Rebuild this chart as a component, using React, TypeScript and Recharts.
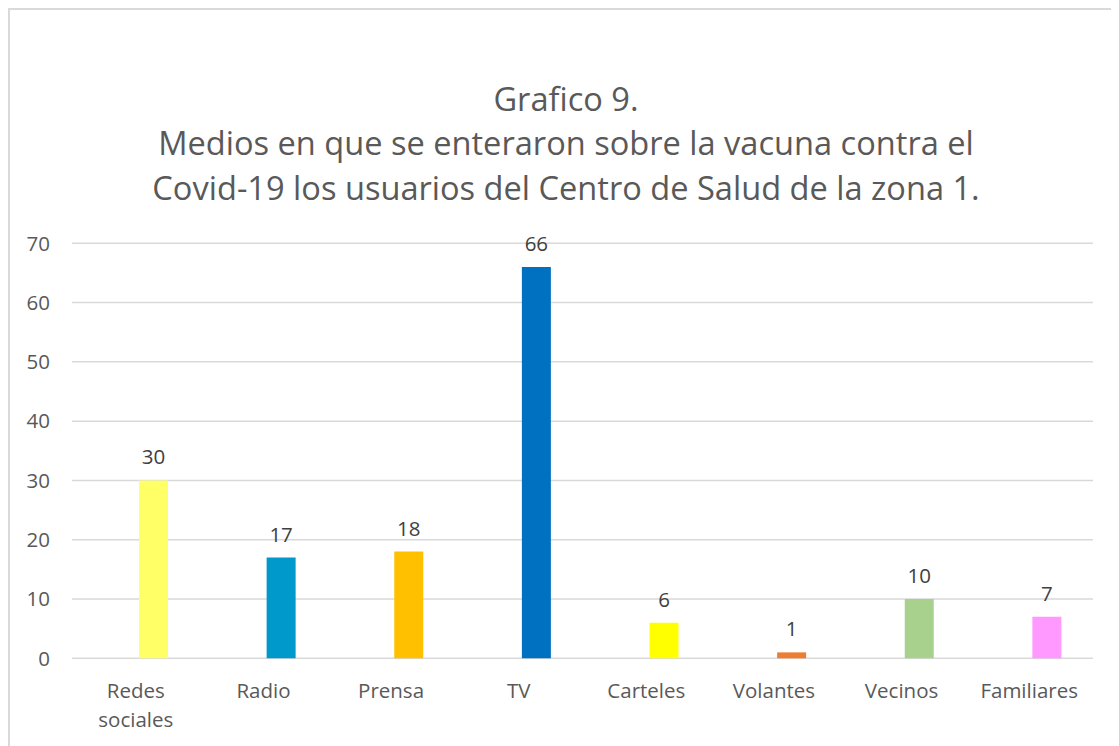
import React from "react";
import { BarChart, Bar, XAxis, YAxis, CartesianGrid, Cell, LabelList } from "recharts";

const categories = ["Redes sociales", "Radio", "Prensa", "TV", "Carteles", "Volantes", "Vecinos", "Familiares"];
const values = [30, 17, 18, 66, 6, 1, 10, 7];
const barColors = ["#FFFF66", "#0099CC", "#FFC000", "#0070C0", "#FFFF00", "#ED7D31", "#A9D18E", "#FF99FF"];
const yTicks = [0, 10, 20, 30, 40, 50, 60, 70];
const titleLines = [
  "Grafico 9.",
  "Medios en que se enteraron sobre la vacuna contra el",
  "Covid-19 los usuarios del Centro de Salud de la zona 1.",
];

const data = categories.map((name, i) => ({ name, value: values[i], spacer: null }));

const FONT = "'Open Sans', sans-serif";
const W = 1109;
const H = 736;
const TICK_FS = 20.5;

const XTick = (props: any) => {
  const { x, y, payload } = props;
  const words = String(payload.value).split(" ");
  return (
    <text
      x={x}
      y={y}
      textAnchor="middle"
      fill="#595959"
      fontSize={TICK_FS}
      fontFamily={FONT}
    >
      {words.map((w, i) => (
        <tspan key={i} x={x} dy={i === 0 ? 0 : 29}>
          {w}
        </tspan>
      ))}
    </text>
  );
};

export default function App() {
  return (
    <div
      style={{
        position: "relative",
        width: W,
        height: H,
        borderTop: "2px solid #d9d9d9",
        borderLeft: "2px solid #d9d9d9",
        overflow: "hidden",
        background: "#fff",
        fontFamily: FONT,
      }}
    >
      <BarChart
        width={W}
        height={H}
        data={data}
        margin={{ top: 233.3, right: 26, bottom: 0, left: 12 }}
        barGap={6}
        barSize={29}
      >
        <CartesianGrid vertical={false} stroke="#d9d9d9" strokeWidth={1.5} />
        <XAxis
          dataKey="name"
          axisLine={false}
          tickLine={false}
          tickSize={0}
          tickMargin={39.7}
          height={87.7}
          interval={0}
          tick={<XTick />}
        />
        <YAxis
          domain={[0, 70]}
          ticks={yTicks}
          axisLine={false}
          tickLine={false}
          tickSize={0}
          tickMargin={22}
          width={50}
          tick={{ fill: "#595959", fontSize: TICK_FS, fontFamily: FONT }}
        />
        <Bar dataKey="spacer" isAnimationActive={false} fill="transparent" />
        <Bar dataKey="value" isAnimationActive={false}>
          {data.map((d, i) => (
            <Cell key={d.name} fill={barColors[i]} />
          ))}
          <LabelList
            dataKey="value"
            position="top"
            offset={16}
            fill="#404040"
            fontSize={TICK_FS}
            fontFamily={FONT}
          />
        </Bar>
      </BarChart>
      <svg
        width={W}
        height={230}
        style={{ position: "absolute", left: 0, top: 0, pointerEvents: "none" }}
      >
        {titleLines.map((t, i) => (
          <text
            key={i}
            x={556}
            y={100.5 + i * 44.5}
            textAnchor="middle"
            fill="#595959"
            fontSize={32.6}
            fontFamily={FONT}
          >
            {t}
          </text>
        ))}
      </svg>
    </div>
  );
}
